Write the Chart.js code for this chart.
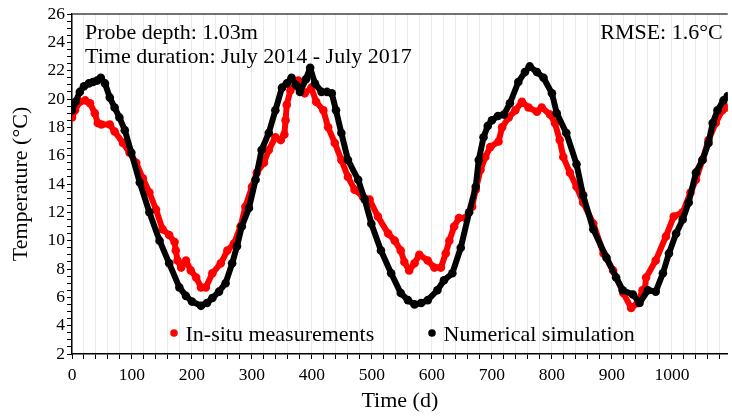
<!DOCTYPE html>
<html>
<head>
<meta charset="utf-8">
<script src="https://cdn.jsdelivr.net/npm/chart.js@4.4.1/dist/chart.umd.min.js"></script>
<style>
html,body{margin:0;padding:0;background:#fff;}
#wrap{position:relative;width:732px;height:416px;}
</style>
</head>
<body>
<div id="wrap"><canvas id="c" width="732" height="416"></canvas></div>
<script>
// ---- Data ----
const measDays = [0,5,13,22,30,38,43,49,63,71,85,96,107,118,129,140,151,162,171,173,176,182,190,198,207,215,223,234,248,259,270,281,289,300,308,320,328,339,348,354,356,358,364,377,388,399,407,419,427,438,449,460,471,485,496,510,527,538,548,554,562,571,579,593,604,615,623,629,637,645,656,667,673,681,689,697,711,717,728,739,750,761,775,783,797,805,813,819,830,841,852,869,886,902,919,932,943,951,955,957,973,990,1003,1018,1031,1040,1051,1061,1073,1084,1093];
const measTemps = [18.7,19.2,19.8,19.9,19.7,19.0,18.3,18.2,18.2,17.7,16.9,16.2,15.5,14.4,13.4,12.2,10.8,10.4,9.9,9.3,8.6,8.1,8.6,7.9,7.4,6.7,6.7,7.7,8.4,9.3,9.8,11.0,12.4,13.8,14.8,15.5,16.4,17.3,17.1,17.5,18.5,19.6,20.6,21.3,20.4,20.8,19.8,19.2,18.0,16.9,15.7,14.5,13.6,13.1,12.9,11.7,10.5,10.0,9.3,8.5,7.9,8.4,9.0,8.6,8.1,8.1,9.1,10.0,11.0,11.6,11.6,12.4,13.6,15.0,15.9,16.6,17.0,18.0,18.7,19.2,19.8,19.4,19.1,19.4,18.9,18.3,17.1,15.9,14.8,13.8,12.7,11.2,9.1,7.9,6.3,5.25,5.6,6.5,6.6,7.4,8.6,10.3,11.7,12.0,13.4,14.3,15.7,17.1,18.3,19.2,19.4];

const simDays = [0,6,13,20,28,35,42,48,55,63,71,79,88,99,113,129,146,162,179,190,200,215,225,234,245,256,267,275,283,295,306,316,328,339,350,358,366,373,380,390,397,405,416,425,433,440,449,460,477,488,499,515,532,548,560,571,582,593,609,620,634,648,662,673,678,686,693,700,710,720,730,744,755,763,775,786,800,808,824,841,852,869,891,907,918,935,946,960,973,985,995,1007,1018,1028,1040,1051,1061,1068,1076,1086,1093];
const simTemps = [19.2,19.8,20.5,20.9,21.1,21.2,21.3,21.5,21.1,20.1,19.4,18.7,17.8,16.2,14.1,12.0,10.0,8.4,6.7,6.1,5.7,5.4,5.6,5.95,6.4,7.0,8.4,9.6,11.0,12.3,14.3,16.4,17.6,19.2,20.8,21.1,21.5,21.0,20.5,21.4,22.2,21.1,20.5,20.5,20.4,19.2,17.6,15.7,14.3,12.9,11.2,9.3,7.7,6.3,5.8,5.5,5.6,5.8,6.5,7.2,7.7,9.5,12.0,13.8,15.7,17.3,18.1,18.5,18.8,18.9,19.7,21.2,21.9,22.3,21.9,21.5,20.4,19.0,17.6,15.4,13.2,10.8,8.8,7.4,6.5,6.2,5.6,6.5,6.4,7.7,9.1,10.5,11.5,12.7,14.8,15.7,16.9,18.3,19.2,19.9,20.2];

const seriesNames = ['In-situ measurements', 'Numerical simulation'];
const xLabelStep = 100;   // labelled x ticks
const yLabelStep = 2;     // labelled y ticks
const annotTexts = ['Probe depth: 1.03m', 'Time duration: July 2014 - July 2017'];
const rmseText = 'RMSE: 1.6\u00B0C';

// ---- Chart ----
const SERIF = '"Liberation Serif", "Times New Roman", serif';
const toPts = (xs, ys) => xs.map((x, i) => ({x: x, y: ys[i]}));

const overlay = {
  id: 'overlay',
  afterDraw(chart) {
    const ctx = chart.ctx, a = chart.chartArea;
    ctx.save();
    // top frame line
    ctx.strokeStyle = '#444';
    ctx.lineWidth = 1.5;
    ctx.beginPath();
    ctx.moveTo(a.left, a.top);
    ctx.lineTo(a.right, a.top);
    ctx.stroke();
    // annotations
    ctx.fillStyle = '#000';
    ctx.font = '22px ' + SERIF;
    ctx.textBaseline = 'alphabetic';
    ctx.textAlign = 'left';
    ctx.fillText(annotTexts[0], a.left + 13, 39);
    ctx.fillText(annotTexts[1], a.left + 13, 63);
    ctx.textAlign = 'right';
    ctx.fillText(rmseText, a.right - 5, 39);
    // legend
    ctx.textAlign = 'left';
    ctx.font = '22px ' + SERIF;
    const items = [
      {x: 174, color: chart.data.datasets[0].backgroundColor, label: seriesNames[0]},
      {x: 432, color: chart.data.datasets[1].backgroundColor, label: seriesNames[1]}
    ];
    items.forEach(it => {
      ctx.fillStyle = it.color;
      ctx.beginPath();
      ctx.arc(it.x, 333, 3.8, 0, Math.PI * 2);
      ctx.fill();
      ctx.fillStyle = '#000';
      ctx.fillText(it.label, it.x + 11.5, 341);
    });
    ctx.restore();
  }
};

new Chart(document.getElementById('c'), {
  type: 'scatter',
  data: {
    datasets: [
      {
        label: seriesNames[0],
        data: toPts(measDays, measTemps),
        showLine: true,
        borderColor: '#ff0000',
        backgroundColor: '#ff0000',
        borderWidth: 6,
        borderCapStyle: 'round',
        borderJoinStyle: 'round',
        pointRadius: 4.3,
        pointBorderWidth: 0,
        order: 1
      },
      {
        label: seriesNames[1],
        data: toPts(simDays, simTemps),
        showLine: true,
        borderColor: '#000000',
        backgroundColor: '#000000',
        borderWidth: 6,
        borderCapStyle: 'round',
        borderJoinStyle: 'round',
        pointRadius: 4.3,
        pointBorderWidth: 0,
        order: 0
      }
    ]
  },
  options: {
    responsive: false,
    animation: false,
    devicePixelRatio: 1,
    layout: {padding: {top: 14, right: 0, left: 0, bottom: 0}},
    plugins: {legend: {display: false}, tooltip: {enabled: false}},
    scales: {
      x: {
        type: 'linear',
        min: 0, max: 1093,
        ticks: {
          stepSize: 20, autoSkip: false, includeBounds: false, maxRotation: 0, padding: 6,
          color: '#000', font: {family: SERIF, size: 17.5},
          callback: v => (v % xLabelStep === 0 ? String(v) : '')
        },
        grid: {color: '#ebebeb', lineWidth: 1, tickColor: '#000', tickLength: 5, tickWidth: 1},
        border: {color: '#000', width: 1.5},
        title: {display: true, text: 'Time (d)', color: '#000', font: {family: SERIF, size: 22}, padding: {top: 0, bottom: 2}},
        afterFit(s) { s.height = 62; }
      },
      y: {
        min: 2, max: 26,
        ticks: {
          stepSize: 0.5, autoSkip: false, includeBounds: false, padding: 2,
          color: '#000', font: {family: SERIF, size: 17.5},
          callback: v => (Math.abs(v % yLabelStep) < 1e-9 ? String(v) : '')
        },
        grid: {drawOnChartArea: false, tickColor: '#000', tickLength: 5, tickWidth: 1},
        border: {color: '#000', width: 1.5},
        title: {display: true, text: 'Temperature (\u00B0C)', color: '#000', font: {family: SERIF, size: 22}, padding: {top: 8, bottom: 0}},
        afterFit(s) { s.width = 72; }
      }
    }
  },
  plugins: [overlay]
});
</script>
</body>
</html>
